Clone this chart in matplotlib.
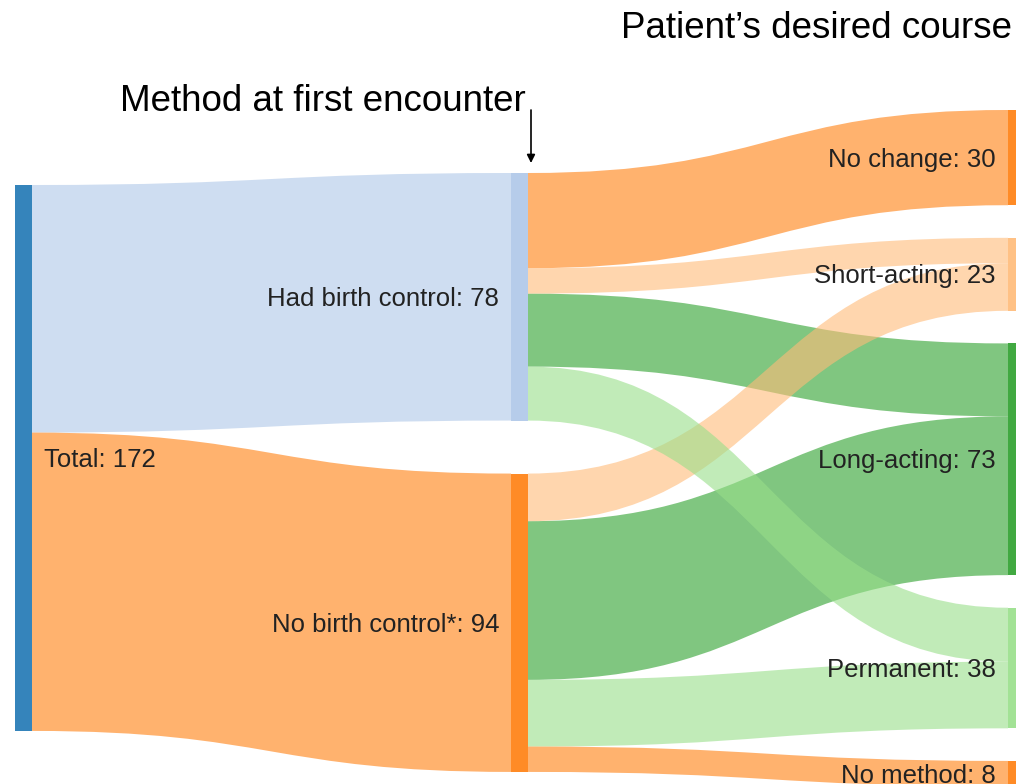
import matplotlib.pyplot as plt
from matplotlib.path import Path
from matplotlib.patches import PathPatch, Rectangle

# nodes
node_labels = ['Total', 'Had birth control', 'No birth control*',
               'No change', 'Short-acting', 'Long-acting', 'Permanent', 'No method']
node_column = [0, 1, 1, 2, 2, 2, 2, 2]
node_colors = ['#1f77b4', '#aec7e8', '#ff7f0e',
               '#ff7f0e', '#ffbb78', '#2ca02c', '#98df8a', '#ff7f0e']

# links (listed in drawing order)
link_source = [0, 0, 1, 1, 2, 1, 2, 1, 2, 2]
link_target = [1, 2, 3, 5, 5, 4, 4, 6, 6, 7]
link_value = [78, 94, 30, 23, 50, 8, 15, 17, 21, 8]

left_title = 'Method at first encounter'
right_title = 'Patient\u2019s desired course'

# layout (pixels)
W, H = 1016, 784
col_x = [15, 511, 1008]
node_w = 17
col_top = [185, 173, 110]
col_pad = [0, 53, 32.6]
scale = 3.174  # px per person

plt.rcParams['font.family'] = ['Liberation Sans', 'DejaVu Sans']

fig = plt.figure(figsize=(W / 100, H / 100), dpi=100)
ax = fig.add_axes([0, 0, 1, 1])
ax.set_xlim(0, W)
ax.set_ylim(H, 0)
ax.axis('off')

n = len(node_labels)
node_val = []
for i in range(n):
    vin = sum(v for t, v in zip(link_target, link_value) if t == i)
    vout = sum(v for s, v in zip(link_source, link_value) if s == i)
    node_val.append(max(vin, vout))

# node positions
node_y0 = [0.0] * n
cursor = list(col_top)
for i in range(n):
    c = node_column[i]
    node_y0[i] = cursor[c]
    cursor[c] += node_val[i] * scale + col_pad[c]

# where each link leaves / enters its nodes
out_off = [0.0] * n
in_off = [0.0] * n
src_pos = {}
for j in sorted(range(len(link_value)),
                key=lambda j: (link_source[j], node_y0[link_target[j]])):
    s = link_source[j]
    src_pos[j] = node_y0[s] + out_off[s]
    out_off[s] += link_value[j] * scale
tgt_pos = {}
for j in sorted(range(len(link_value)),
                key=lambda j: (link_target[j], node_y0[link_source[j]])):
    t = link_target[j]
    tgt_pos[j] = node_y0[t] + in_off[t]
    in_off[t] += link_value[j] * scale

for j in range(len(link_value)):
    s, t = link_source[j], link_target[j]
    h = link_value[j] * scale
    x0 = col_x[node_column[s]] + node_w
    x1 = col_x[node_column[t]]
    xm = (x0 + x1) / 2
    y0, y1 = src_pos[j], tgt_pos[j]
    verts = [(x0, y0), (xm, y0), (xm, y1), (x1, y1),
             (x1, y1 + h), (xm, y1 + h), (xm, y0 + h), (x0, y0 + h), (x0, y0)]
    codes = [Path.MOVETO, Path.CURVE4, Path.CURVE4, Path.CURVE4,
             Path.LINETO, Path.CURVE4, Path.CURVE4, Path.CURVE4, Path.CLOSEPOLY]
    ax.add_patch(PathPatch(Path(verts, codes), facecolor=node_colors[t],
                           edgecolor='none', alpha=0.6, zorder=1))

# nodes and labels
for i in range(n):
    c = node_column[i]
    h = node_val[i] * scale
    ax.add_patch(Rectangle((col_x[c], node_y0[i]), node_w, h,
                           facecolor=node_colors[i], edgecolor='none',
                           alpha=0.9, zorder=2))
    label = f'{node_labels[i]}: {node_val[i]}'
    yc = node_y0[i] + h / 2 + 2
    if c == 0:
        ax.text(col_x[c] + node_w + 12, yc, label, ha='left', va='center',
                fontsize=18.5, color='#222222', zorder=3)
    else:
        ax.text(col_x[c] - 12, yc, label, ha='right', va='center',
                fontsize=18.5, color='#222222', zorder=3)

# titles
ax.text(120, 101, left_title, ha='left', va='center', fontsize=26.5, color='black')
ax.text(1012, 28, right_title, ha='right', va='center', fontsize=26.5, color='black')
ax.annotate('', xy=(531, 163), xytext=(531, 110),
            arrowprops=dict(arrowstyle='-|>', lw=1.2, color='black',
                            mutation_scale=12, shrinkA=0, shrinkB=0))

fig.savefig('out.png', dpi=100)
